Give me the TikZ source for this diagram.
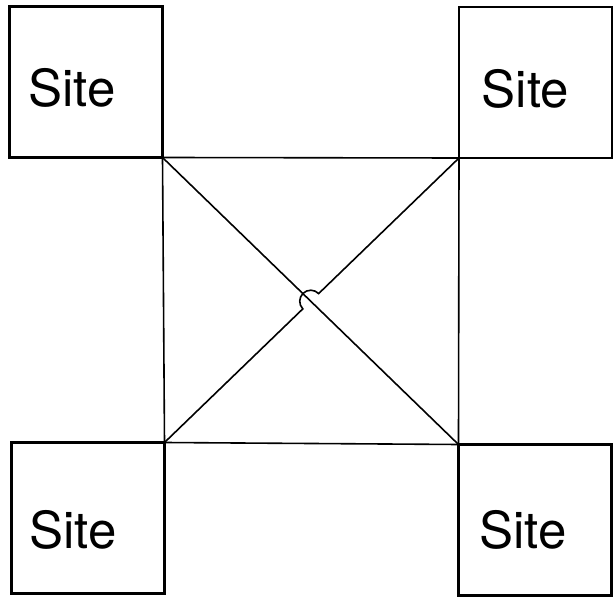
\documentclass[tikz,border=0pt]{standalone}
\usepackage{fontspec}
\setsansfont{TeX Gyre Heros}
\usetikzlibrary{calc}
\begin{document}
\begin{tikzpicture}[x=1pt,y=1pt,
    sitebox/.style={draw,line width=2.4pt,minimum width=153pt,minimum height=151pt,inner sep=0pt,outer sep=0pt},
    sitetext/.style={font=\sffamily\fontsize{51}{60}\selectfont,inner sep=0pt},
    link/.style={line width=1.6pt}]
    \useasboundingbox (0,0) rectangle (613,600);
    % the four sites
    \node[sitebox] (tl) at (86,518) {};
    \node[sitebox] (tr) at (535.5,517.5) {};
    \node[sitebox] (bl) at (88,82) {};
    \node[sitebox] (br) at (535,80) {};
    \node[sitetext] (tltext) at ($(tl.center)+(-14,-6)$) {Site};
    \node[sitetext] (trtext) at ($(tr.center)+(-10,-6)$) {Site};
    \node[sitetext] (bltext) at ($(bl.center)+(-15,-12)$) {Site};
    \node[sitetext] (brtext) at ($(br.center)+(-12,-10)$) {Site};
    % links between the sites
    \draw[link] (tl.south east) -- (tr.south west) -- (br.north west) -- (bl.north east) -- cycle;
    \draw[link] (tl.south east) -- (br.north west);
    \coordinate (hop) at (intersection of tl.south east--br.north west and bl.north east--tr.south west);
    \draw[link] (bl.north east) -- ($(hop)!11pt!(bl.north east)$)
      arc[start angle=224,end angle=44,radius=11] -- (tr.south west);
  \end{tikzpicture}
\end{document}
